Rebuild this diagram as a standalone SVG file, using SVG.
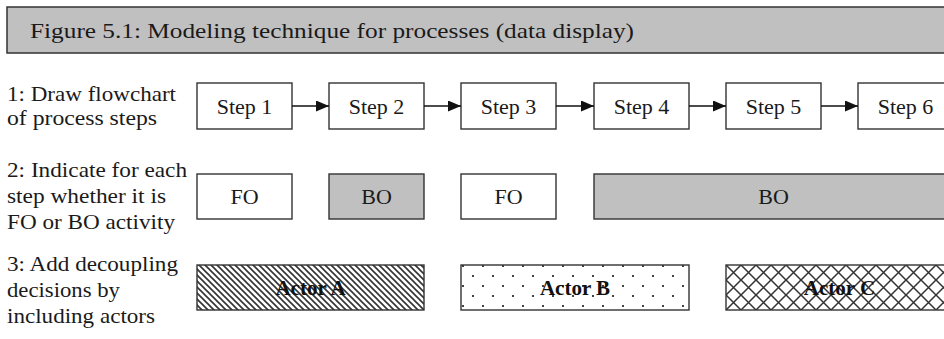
<svg xmlns="http://www.w3.org/2000/svg" width="944" height="339" viewBox="0 0 944 339">
<style>
text{font-family:"Liberation Serif","Times New Roman",serif;fill:#1a1a1a}
.lbl{font-size:22px}
.ctr{font-size:22px;text-anchor:middle}
.act{font-size:21px;font-weight:bold;text-anchor:middle;fill:#111}
.box{fill:#fff;stroke:#333;stroke-width:1.4}
.bo{fill:#c0c0c0;stroke:#333;stroke-width:1.4}
.conn{stroke:#111;stroke-width:1.4;fill:none}
</style>
<defs>
<marker id="ah" markerWidth="13" markerHeight="11" refX="13" refY="5.5" orient="auto" markerUnits="userSpaceOnUse">
<path d="M0,0 L13,5.5 L0,11 Z" fill="#111"/>
</marker>
<pattern id="diag" patternUnits="userSpaceOnUse" width="6" height="6">
<path d="M-1,-1 L7,7 M-1,5 L1,7 M5,-1 L7,1" stroke="#333" stroke-width="1.6"/>
</pattern>
<pattern id="dots" patternUnits="userSpaceOnUse" width="20" height="20">
<rect x="2" y="5" width="2" height="2" fill="#444"/>
<rect x="12" y="15" width="2" height="2" fill="#444"/>
</pattern>
<pattern id="cross" patternUnits="userSpaceOnUse" x="726" y="265" width="15" height="15">
<path d="M0,0 L15,15 M15,0 L0,15" stroke="#333" stroke-width="1.5"/>
</pattern>
</defs>
<g id="header">
<rect x="7" y="7" width="950" height="46" fill="#c0c0c0" stroke="#333" stroke-width="1.5"/>
<text x="30" y="38" font-size="22" textLength="604" lengthAdjust="spacingAndGlyphs">Figure 5.1: Modeling technique for processes (data display)</text>
</g>
<g id="label1">
<text class="lbl" x="7" y="101" textLength="169" lengthAdjust="spacingAndGlyphs">1: Draw flowchart</text>
<text class="lbl" x="7" y="125" textLength="150" lengthAdjust="spacingAndGlyphs">of process steps</text>
</g>
<g id="label2">
<text class="lbl" x="7" y="177" textLength="180" lengthAdjust="spacingAndGlyphs">2: Indicate for each</text>
<text class="lbl" x="7" y="203" textLength="159" lengthAdjust="spacingAndGlyphs">step whether it is</text>
<text class="lbl" x="7" y="229" textLength="168" lengthAdjust="spacingAndGlyphs">FO or BO activity</text>
</g>
<g id="label3">
<text class="lbl" x="7" y="271" textLength="171" lengthAdjust="spacingAndGlyphs">3: Add decoupling</text>
<text class="lbl" x="7" y="297" textLength="113" lengthAdjust="spacingAndGlyphs">decisions by</text>
<text class="lbl" x="7" y="323" textLength="148" lengthAdjust="spacingAndGlyphs">including actors</text>
</g>
<g id="step1"><rect class="box" x="197" y="83" width="95" height="46"/><text class="ctr" x="244.5" y="114">Step 1</text></g>
<g id="step2"><rect class="box" x="329" y="83" width="95" height="46"/><text class="ctr" x="376.5" y="114">Step 2</text></g>
<g id="step3"><rect class="box" x="461" y="83" width="95" height="46"/><text class="ctr" x="508.5" y="114">Step 3</text></g>
<g id="step4"><rect class="box" x="594" y="83" width="95" height="46"/><text class="ctr" x="641.5" y="114">Step 4</text></g>
<g id="step5"><rect class="box" x="726" y="83" width="95" height="46"/><text class="ctr" x="773.5" y="114">Step 5</text></g>
<g id="step6"><rect class="box" x="858" y="83" width="95" height="46"/><text class="ctr" x="905.5" y="114">Step 6</text></g>
<g id="connectors">
<line class="conn" x1="292" y1="106" x2="329" y2="106" marker-end="url(#ah)"/>
<line class="conn" x1="424" y1="106" x2="461" y2="106" marker-end="url(#ah)"/>
<line class="conn" x1="556" y1="106" x2="594" y2="106" marker-end="url(#ah)"/>
<line class="conn" x1="689" y1="106" x2="726" y2="106" marker-end="url(#ah)"/>
<line class="conn" x1="821" y1="106" x2="858" y2="106" marker-end="url(#ah)"/>
</g>
<g id="fo1"><rect class="box" x="197" y="174" width="95" height="45"/><text class="ctr" x="244.5" y="204">FO</text></g>
<g id="bo1"><rect class="bo" x="329" y="174" width="95" height="45"/><text class="ctr" x="376.5" y="204">BO</text></g>
<g id="fo2"><rect class="box" x="461" y="174" width="95" height="45"/><text class="ctr" x="508.5" y="204">FO</text></g>
<g id="bo2"><rect class="bo" x="594" y="174" width="359" height="45"/><text class="ctr" x="773.5" y="204">BO</text></g>
<g id="actorA"><rect x="197" y="265" width="227" height="45" fill="url(#diag)" stroke="#333" stroke-width="1.4"/><text class="act" x="310.5" y="295">Actor A</text></g>
<g id="actorB"><rect x="461" y="265" width="228" height="45" fill="url(#dots)" stroke="#333" stroke-width="1.4"/><text class="act" x="575" y="295">Actor B</text></g>
<g id="actorC"><rect x="726" y="265" width="227" height="45" fill="url(#cross)" stroke="#333" stroke-width="1.4"/><text class="act" x="839.5" y="295">Actor C</text></g>
</svg>
